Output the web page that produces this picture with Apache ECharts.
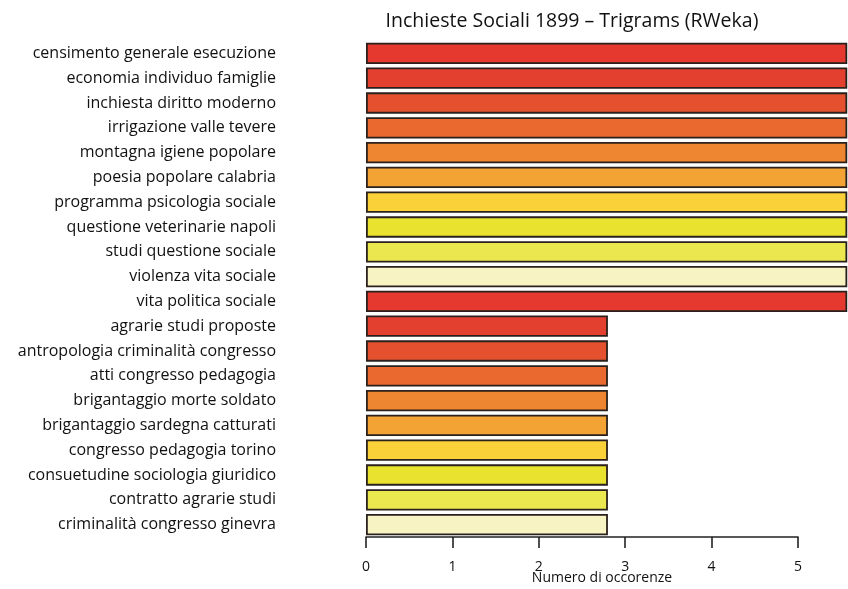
<!DOCTYPE html>
<html>
<head>
<meta charset="utf-8">
<script src="https://cdn.jsdelivr.net/npm/echarts@6/dist/echarts.min.js"></script>
<style>html,body{margin:0;padding:0;background:#fff}#c{width:848px;height:589px}</style>
</head>
<body>
<div id="c"></div>
<script>
const categories = [
  "censimento generale esecuzione",
  "economia individuo famiglie",
  "inchiesta diritto moderno",
  "irrigazione valle tevere",
  "montagna igiene popolare",
  "poesia popolare calabria",
  "programma psicologia sociale",
  "questione veterinarie napoli",
  "studi questione sociale",
  "violenza vita sociale",
  "vita politica sociale",
  "agrarie studi proposte",
  "antropologia criminalità congresso",
  "atti congresso pedagogia",
  "brigantaggio morte soldato",
  "brigantaggio sardegna catturati",
  "congresso pedagogia torino",
  "consuetudine sociologia giuridico",
  "contratto agrarie studi",
  "criminalità congresso ginevra"
];
const values = [5.57,5.57,5.57,5.57,5.57,5.57,5.57,5.57,5.57,5.57,5.57,2.8,2.8,2.8,2.8,2.8,2.8,2.8,2.8,2.8];
const palette = ["#e5392f","#e4402f","#e5502e","#ea692e","#ee8531","#f2a334","#fbd13a","#e9e22f","#ebe84f","#f8f3c2"];
const xTicks = [0,1,2,3,4,5];

const chart = echarts.init(document.getElementById('c'));
chart.setOption({
  animation: false,
  backgroundColor: '#ffffff',
  title: {
    text: 'Inchieste Sociali 1899 – Trigrams (RWeka)',
    left: 567, top: 6, textAlign: 'center',
    textStyle: {fontFamily: 'Open Sans', fontSize: 19.5, fontWeight: 'normal', color: '#111'}
  },
  grid: {left: 366, right: 50, top: 41, bottom: 52, containLabel: false, outerBoundsMode: 'none'},
  xAxis: {
    type: 'value', min: 0, max: 5, interval: 1,
    name: 'Numero di occorenze', nameLocation: 'middle', nameGap: 34, nameMoveOverlap: false,
    nameTextStyle: {fontFamily: 'Open Sans', fontSize: 14, color: '#111', padding: [0,0,0,40]},
    axisLine: {show: true, lineStyle: {color: '#222', width: 1.6}},
    axisTick: {show: true, length: 11, lineStyle: {color: '#222', width: 1.6}},
    axisLabel: {fontFamily: 'Open Sans', fontSize: 14, color: '#111', margin: 23,
      formatter: v => xTicks.includes(v) ? String(v) : ''},
    splitLine: {show: false}
  },
  yAxis: {
    type: 'category', data: categories, inverse: true,
    axisLine: {show: false}, axisTick: {show: false},
    axisLabel: {fontFamily: 'Open Sans', fontSize: 16, color: '#111', margin: 90}
  },
  series: [{
    type: 'bar', clip: false,
    data: values.map((v, i) => ({value: v, itemStyle: {color: palette[i % palette.length]}})),
    barCategoryGap: '14%',
    itemStyle: {borderColor: '#2a211c', borderWidth: 1.8}
  }]
});
</script>
</body>
</html>
